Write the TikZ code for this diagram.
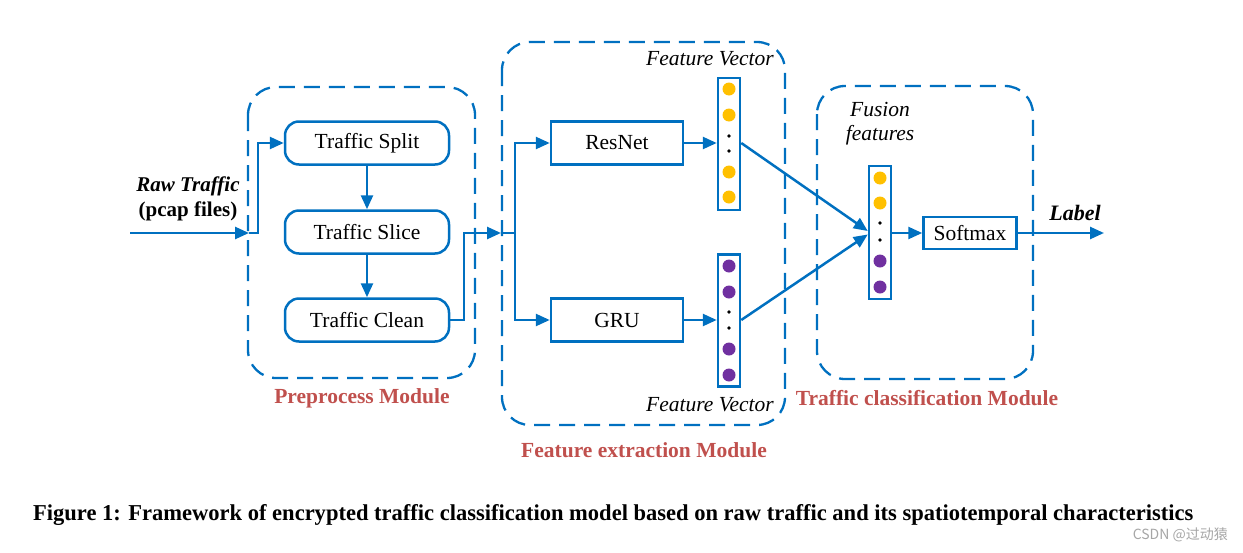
\documentclass[tikz,border=0pt]{standalone}
\usepackage{fontspec}
\setmainfont{Liberation Serif}
\newfontfamily\cjk{Noto Sans CJK SC}
\usetikzlibrary{arrows.meta,calc}
\definecolor{lblue}{HTML}{0070C0}
\definecolor{modred}{HTML}{C0504D}
\definecolor{dyel}{HTML}{FFC000}
\definecolor{dpur}{HTML}{7030A0}
\begin{document}
\begin{tikzpicture}[x=1pt,y=-1pt,
  ln/.style={lblue,line width=2.5pt},
  arr/.style={lblue,line width=2.5pt,-{Triangle[length=14pt,width=12pt]}},
  txt/.style={font=\fontsize{21.5}{24}\selectfont},
  rbox/.style={draw=lblue,line width=2.5pt,rounded corners=14pt,minimum width=164pt,minimum height=43pt,inner sep=0pt,txt},
  sbox/.style={draw=lblue,line width=2.5pt,minimum width=132pt,minimum height=43pt,inner sep=0pt,txt},
  modbox/.style={draw=lblue,line width=2.3pt,dash pattern=on 16pt off 9pt,rounded corners=28pt},
  vec/.style={draw=lblue,line width=2.5pt,minimum width=22pt,minimum height=132pt,inner sep=0pt},
  modlabel/.style={font=\fontsize{21.5}{24}\selectfont\bfseries,text=modred},
  itl/.style={font=\fontsize{21.5}{24}\selectfont\itshape},
  ydot/.style={fill=dyel},
  pdot/.style={fill=dpur}
]
\useasboundingbox (0,0) rectangle (1243,552);

% module boxes
\draw[modbox] (248,87) rectangle (475,378);
\draw[modbox] (502,42) rectangle (785,425);
\draw[modbox] (817,86) rectangle (1033,379);

% preprocess nodes
\node[rbox] (split) at (367,143) {Traffic Split};
\node[rbox] (slice) at (367,232) {Traffic Slice};
\node[rbox] (clean) at (367,320) {Traffic Clean};

\node[font=\fontsize{21}{24}\selectfont\bfseries\itshape] (raw) at (188,186) {Raw Traffic};
\node[font=\fontsize{21}{24}\selectfont\bfseries] (pcap) at (188,211) {(pcap files)};

\coordinate (in0) at (130,233);
\coordinate (in1) at (249,233);
\coordinate (in2) at (258,233);
\draw[arr] (in0) -- (in1);
\draw[arr] (in1) -- (in2) |- (split.west);
\draw[arr] (split) -- (slice);
\draw[arr] (slice) -- (clean);

% feature extraction
\node[sbox] (resnet) at (617,143) {ResNet};
\node[sbox] (gru) at (617,320) {GRU};

\coordinate (c1) at (464,233);
\coordinate (c2) at (501,233);
\coordinate (c3) at (515,233);
\draw[arr] (clean.east) -| (c1) -- (c2);
\draw[ln] (c2) -- (c3);
\draw[arr] (c3) |- (resnet.west);
\draw[arr] (c3) |- (gru.west);

\node[vec] (v1) at (729,144) {};
\node[vec] (v2) at (729,320.5) {};
\fill[ydot] (729,89) circle[radius=6.5pt];
\fill[ydot] (729,115) circle[radius=6.5pt];
\fill (729,136) circle[radius=1.8pt];
\fill (729,151) circle[radius=1.8pt];
\fill[ydot] (729,172) circle[radius=6.5pt];
\fill[ydot] (729,197) circle[radius=6.5pt];
\fill[pdot] (729,266) circle[radius=6.5pt];
\fill[pdot] (729,292) circle[radius=6.5pt];
\fill (729,312) circle[radius=1.8pt];
\fill (729,328) circle[radius=1.8pt];
\fill[pdot] (729,349) circle[radius=6.5pt];
\fill[pdot] (729,375) circle[radius=6.5pt];

\draw[arr] (resnet.east) -- (resnet.east -| v1.west);
\draw[arr] (gru.east) -- (gru.east -| v2.west);

\node[itl,fill=white,inner sep=2pt] (fvt) at (710,59) {Feature Vector};
\node[itl,fill=white,inner sep=2pt] (fvb) at (710,405) {Feature Vector};

% classification
\node[vec,minimum height=133pt] (fv) at (880,232.5) {};
\fill[ydot] (880,178) circle[radius=6.5pt];
\fill[ydot] (880,203) circle[radius=6.5pt];
\fill (880,223) circle[radius=1.8pt];
\fill (880,240) circle[radius=1.8pt];
\fill[pdot] (880,261) circle[radius=6.5pt];
\fill[pdot] (880,287) circle[radius=6.5pt];

\node[itl] (fus1) at (880,110) {Fusion};
\node[itl] (fus2) at (880,135) {features};

\draw[arr] (v1.east |- resnet.east) -- ($(fv.west)+(0,-1.5)$);
\draw[arr] (v2.east |- gru.east) -- ($(fv.west)+(0,2)$);

\node[draw=lblue,line width=2.5pt,minimum width=93pt,minimum height=32pt,inner sep=0pt,txt] (soft) at (970,233) {Softmax};
\draw[arr] (fv.east |- soft.west) -- (soft.west);
\coordinate (out) at (1104,233);
\draw[arr] (soft.east) -- (out);
\node[font=\fontsize{22}{24}\selectfont\bfseries\itshape] (lab) at (1075,213) {Label};

% module labels
\node[modlabel] (m1) at (362,398) {Preprocess Module};
\node[modlabel] (m2) at (644,450) {Feature extraction Module};
\node[modlabel] (m3) at (927,398) {Traffic classification Module};

% caption
\node[anchor=west,inner sep=0pt] (cap) at (33,515) {\resizebox{1160pt}{16pt}{\bfseries Figure 1: Framework of encrypted traffic classification model based on raw traffic and its spatiotemporal characteristics}};
\node[anchor=east,inner sep=0pt,text=gray!70,font=\cjk\fontsize{14}{15}\selectfont] (wm) at (1228,535) {CSDN @过动猿};
\end{tikzpicture}
\end{document}
